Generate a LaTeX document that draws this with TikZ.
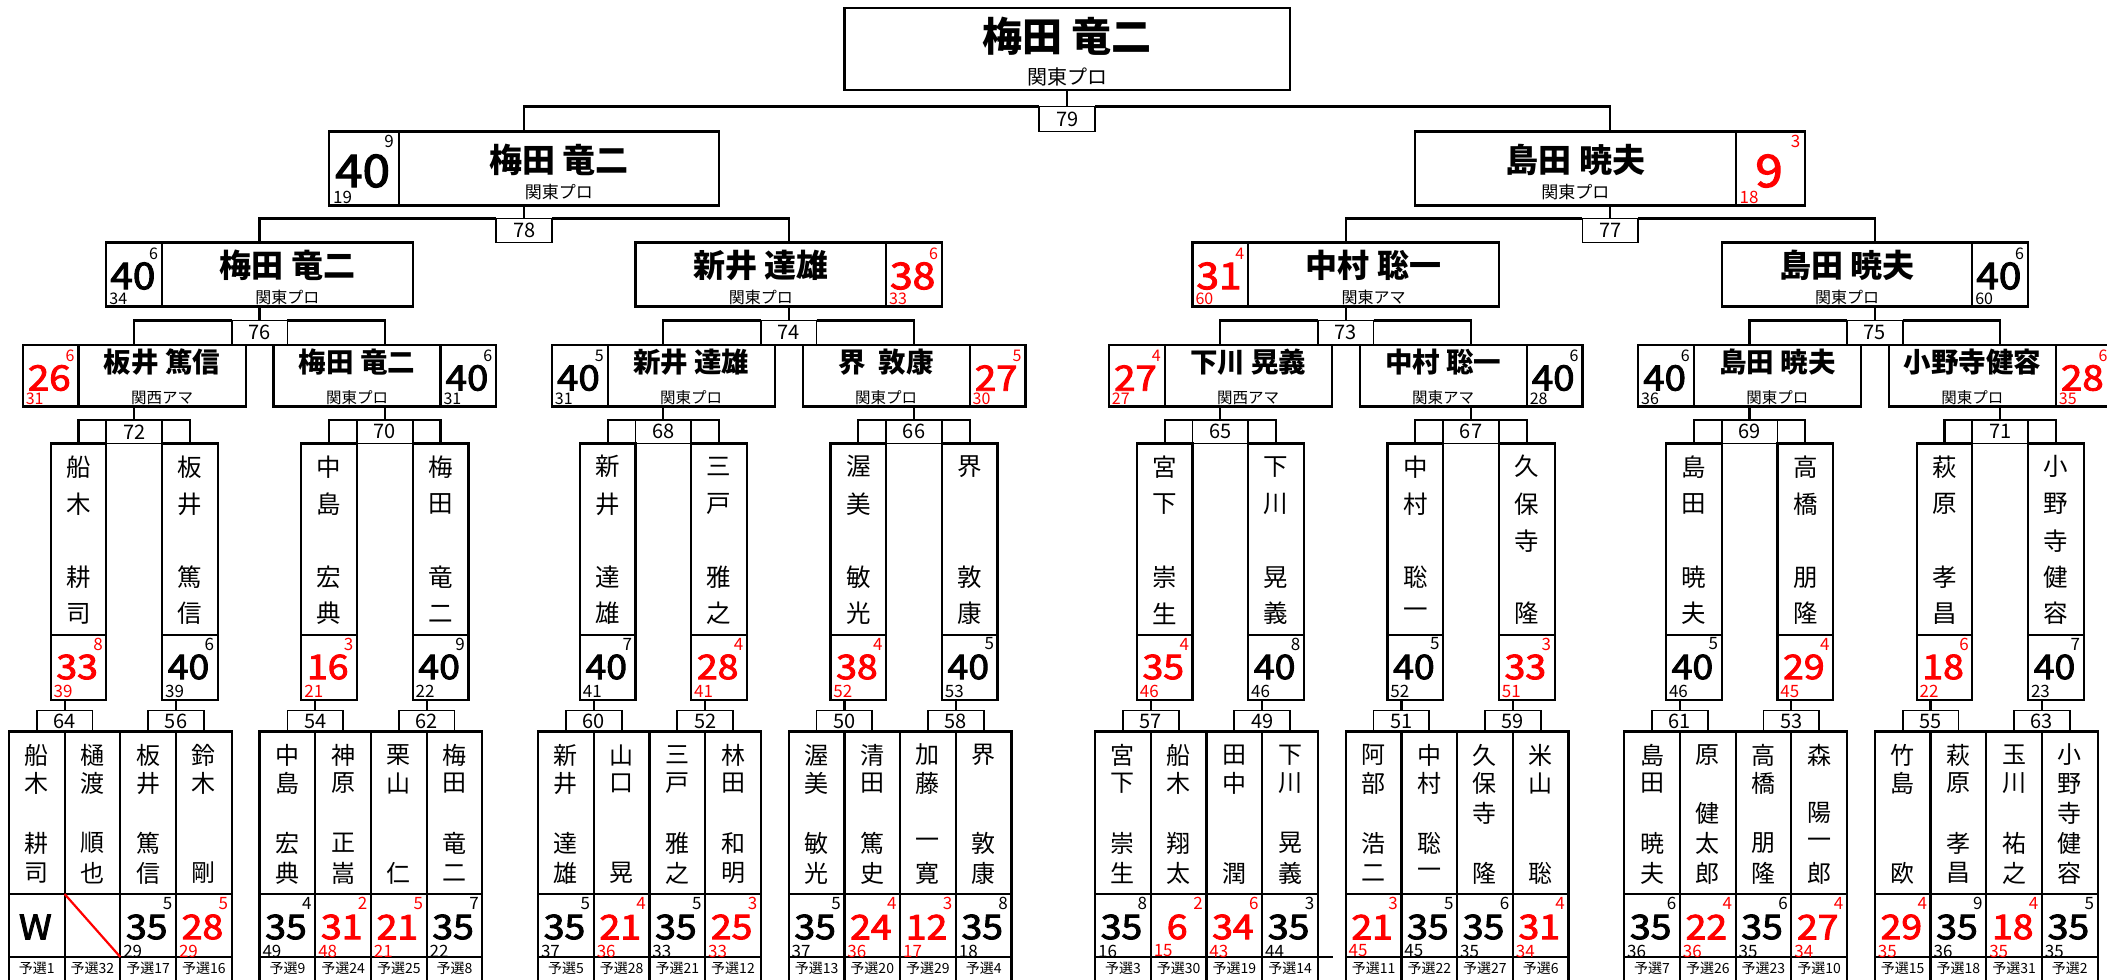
\documentclass[tikz,border=0pt]{standalone}
\usepackage{fontspec}
\setmainfont{Noto Sans CJK JP}
\newfontfamily\numf{Noto Sans CJK JP}[FakeBold=2.5]
\definecolor{rd}{RGB}{255,0,0}
\newcommand{\fsz}[1]{\fontsize{\fpeval{(#1)/2}pt}{\fpeval{(#1)*0.6}pt}\selectfont}
\newcommand{\bn}[1]{\scalebox{1.1}[1]{#1}}
\tikzset{
  cell/.style={draw, rectangle, line width=1.1pt, inner sep=0pt, outer sep=0pt},
  cellline/.style={line width=1.1pt},
  conn/.style={line width=1.1pt},
  mbox/.style={draw, rectangle, line width=0.9pt, inner sep=0pt, outer sep=0pt, minimum width=27.85pt, font=\fsz{20}},
  txt/.style={inner sep=0pt, outer sep=0pt},
  vc1/.style={txt, font=\fsz{24}},
  vc2/.style={txt, font=\fsz{24.5}},
  big1/.style={txt, font=\fsz{34}\numf},
  big2/.style={txt, font=\fsz{34}\numf},
  sm/.style={txt, font=\fsz{17}},
  lab/.style={txt, font=\fsz{14}},
  n3/.style={txt, font=\fsz{27.5}\bfseries},
  a3/.style={txt, font=\fsz{15.5}},
  b3/.style={txt, font=\fsz{35}\numf},
  s3/.style={txt, font=\fsz{16}},
  n4/.style={txt, font=\fsz{32}\bfseries},
  a4/.style={txt, font=\fsz{16}},
  b4/.style={txt, font=\fsz{37}\numf},
  s4/.style={txt, font=\fsz{16}},
  n5/.style={txt, font=\fsz{33}\bfseries},
  a5/.style={txt, font=\fsz{17}},
  b5/.style={txt, font=\fsz{45}\numf},
  s5/.style={txt, font=\fsz{17}},
  ntop/.style={txt, font=\fsz{40}\bfseries},
  atop/.style={txt, font=\fsz{20}},
}
% R1 column: id, left k, 5 slots, label
\newcommand{\Rone}[8]{%
  \node[cell, minimum width=27.85pt, minimum height=81.25pt] (#1n) at (#2+1,812.75) {};
  \node[vc1] (#1a) at (#2+1,755) {#3};
  \node[vc1] (#1b) at (#2+1,783.5) {#4};
  \node[vc1] (#1c) at (#2+1,813) {#5};
  \node[vc1] (#1d) at (#2+1,843) {#6};
  \node[vc1] (#1e) at (#2+1,873) {#7};
  \node[cell, minimum width=27.85pt, minimum height=31.5pt] (#1s) at (#2+1,925.5) {};
  \node[cell, minimum width=27.85pt, minimum height=16.5pt] (#1l) at (#2+1,973.5) {};
  \node[lab] (#1t) at (#2+1,968) {#8};
}
\newcommand{\Rsc}[6]{%
  \node[big1,text=#6] (#1v) at (#2+0.95,927) {\bn{#3}};
  \node[sm,text=#6,anchor=east,xshift=-1.8pt] (#1p) at (#2+2,903.5) {#4};
  \node[sm,text=#6,anchor=west,xshift=1.5pt] (#1q) at (#2,951) {#5};
}
\newcommand{\Mo}[3]{\node[mbox, minimum height=10.5pt] (#1) at (#2,721) {#3};}
\newcommand{\Mt}[3]{\node[mbox, minimum height=11.75pt] (#1) at (#2,431.75) {#3};}
\newcommand{\Mh}[3]{\node[mbox, minimum height=12.25pt] (#1) at (#2,332.75) {#3};}
\newcommand{\Mf}[3]{\node[mbox, minimum height=12pt] (#1) at (#2,230.5) {#3};}
% R2 box: id, left k, 5 slots
\newcommand{\RtN}[7]{%
  \node[cell, minimum width=27.85pt, minimum height=128.25pt] (#1) at (#2+1,571.75) {};
  \draw[cellline] (#2,635) -- (#2+2,635);
  \node[vc2] (#1a) at (#2+1,466.7) {#3};
  \node[vc2] (#1b) at (#2+1,504) {#4};
  \node[vc2] (#1c) at (#2+1,541) {#5};
  \node[vc2] (#1d) at (#2+1,577.5) {#6};
  \node[vc2] (#1e) at (#2+1,613.5) {#7};
}
\newcommand{\RtS}[6]{%
  \node[big2,text=#6] (#1v) at (#2+0.95,667) {\bn{#3}};
  \node[sm,text=#6,anchor=east,xshift=-1.8pt] (#1p) at (#2+2,644) {#4};
  \node[sm,text=#6,anchor=west,xshift=1.5pt] (#1q) at (#2,691.5) {#5};
}
% R3 boxes: id, centre, name, affil, score, sup, sub, colour
\newcommand{\RthL}[8]{%
  \node[cell, minimum width=111.4pt, minimum height=30.75pt] (#1) at (#2,375.75) {};
  \draw[cellline] (#2-2,345) -- (#2-2,406.5);
  \node[n3] (#1n) at (#2+1,362.5) {#3};
  \node[a3] (#1a) at (#2+1,397.5) {#4};
  \node[b3,text=#8] (#1v) at (#2-3.05,378) {\bn{#5}};
  \node[s3,text=#8,anchor=east,xshift=-2pt] (#1p) at (#2-2,355.5) {#6};
  \node[s3,text=#8,anchor=west,xshift=1.5pt] (#1q) at (#2-4,399) {#7};
}
\newcommand{\RthR}[8]{%
  \node[cell, minimum width=111.4pt, minimum height=30.75pt] (#1) at (#2,375.75) {};
  \draw[cellline] (#2+2,345) -- (#2+2,406.5);
  \node[n3] (#1n) at (#2-1,362.5) {#3};
  \node[a3] (#1a) at (#2-1,397.5) {#4};
  \node[b3,text=#8] (#1v) at (#2+2.95,378) {\bn{#5}};
  \node[s3,text=#8,anchor=east,xshift=-2pt] (#1p) at (#2+4,355.5) {#6};
  \node[s3,text=#8,anchor=west,xshift=1.5pt] (#1q) at (#2+2,399) {#7};
}
% R4 boxes
\newcommand{\RfoL}[8]{%
  \node[cell, minimum width=153.175pt, minimum height=32pt] (#1) at (#2,274.5) {};
  \draw[cellline] (#2-3.5,242.5) -- (#2-3.5,306.5);
  \node[n4] (#1n) at (#2+1,265.5) {#3};
  \node[a4] (#1a) at (#2+1,297) {#4};
  \node[b4,text=#8] (#1v) at (#2-4.55,276) {\bn{#5}};
  \node[s4,text=#8,anchor=east,xshift=-2pt] (#1p) at (#2-3.5,254) {#6};
  \node[s4,text=#8,anchor=west,xshift=1.5pt] (#1q) at (#2-5.5,299) {#7};
}
\newcommand{\RfoR}[8]{%
  \node[cell, minimum width=153.175pt, minimum height=32pt] (#1) at (#2,274.5) {};
  \draw[cellline] (#2+3.5,242.5) -- (#2+3.5,306.5);
  \node[n4] (#1n) at (#2-1,265.5) {#3};
  \node[a4] (#1a) at (#2-1,297) {#4};
  \node[b4,text=#8] (#1v) at (#2+4.45,276) {\bn{#5}};
  \node[s4,text=#8,anchor=east,xshift=-2pt] (#1p) at (#2+5.5,254) {#6};
  \node[s4,text=#8,anchor=west,xshift=1.5pt] (#1q) at (#2+3.5,299) {#7};
}
% R5 boxes
\newcommand{\RfiL}[8]{%
  \node[cell, minimum width=194.95pt, minimum height=37pt] (#1) at (#2,168.5) {};
  \draw[cellline] (#2-4.5,131.5) -- (#2-4.5,205.5);
  \node[n5] (#1n) at (#2+1.25,159.5) {#3};
  \node[a5] (#1a) at (#2+1.25,192.5) {#4};
  \node[b5,text=#8] (#1v) at (#2-5.8,171) {\bn{#5}};
  \node[s5,text=#8,anchor=east,xshift=-2.5pt] (#1p) at (#2-4.5,141) {#6};
  \node[s5,text=#8,anchor=west,xshift=2pt] (#1q) at (#2-7,197.5) {#7};
}
\newcommand{\RfiR}[8]{%
  \node[cell, minimum width=194.95pt, minimum height=37pt] (#1) at (#2,168.5) {};
  \draw[cellline] (#2+4.5,131.5) -- (#2+4.5,205.5);
  \node[n5] (#1n) at (#2-1.25,159.5) {#3};
  \node[a5] (#1a) at (#2-1.25,192.5) {#4};
  \node[b5,text=#8] (#1v) at (#2+5.7,171) {\bn{#5}};
  \node[s5,text=#8,anchor=east,xshift=-2.5pt] (#1p) at (#2+7,141) {#6};
  \node[s5,text=#8,anchor=west,xshift=2pt] (#1q) at (#2+4.5,197.5) {#7};
}
\newcommand{\up}[2]{\draw[conn] (#1.north) -- (#1.north |- #2.south);}
\newcommand{\brk}[4]{%
  \draw[conn] (#1.north) |- (#2.north west);
  \draw[conn] (#2.north east) -| (#3.north);
  \draw[conn] (#2.north) -- (#2.north |- #4.south);
}
\begin{document}
\begin{tikzpicture}[x=13.925pt, y=-0.5pt]
\useasboundingbox (-4.45pt,0pt) rectangle (1049.05pt,-489.5pt);
% ---------- Group 1 ----------
\Rone{aA}{0}{船}{木}{}{耕}{司}{予選1}   \Rsc{aA}{0}{W}{}{}{black}
\Rone{aB}{2}{樋}{渡}{}{順}{也}{予選32}
\Rone{aC}{4}{板}{井}{}{篤}{信}{予選17}  \Rsc{aC}{4}{35}{5}{29}{black}
\Rone{aD}{6}{鈴}{木}{}{}{剛}{予選16}    \Rsc{aD}{6}{28}{5}{29}{rd}
\draw[line width=1.1pt, rd] (aBs.north west) -- (aBs.south east);
\Mo{m64}{2}{64} \Mo{m56}{6}{56}
\RtN{aL}{1.5}{船}{木}{}{耕}{司} \RtS{aL}{1.5}{33}{8}{39}{rd}
\RtN{aR}{5.5}{板}{井}{}{篤}{信} \RtS{aR}{5.5}{40}{6}{39}{black}
\Mt{m72}{4.5}{72}
\RthL{aT}{4.5}{板井 篤信}{関西アマ}{26}{6}{31}{rd}
% ---------- Group 2 ----------
\Rone{bA}{9}{中}{島}{}{宏}{典}{予選9}    \Rsc{bA}{9}{35}{4}{49}{black}
\Rone{bB}{11}{神}{原}{}{正}{嵩}{予選24}  \Rsc{bB}{11}{31}{2}{48}{rd}
\Rone{bC}{13}{栗}{山}{}{}{仁}{予選25}    \Rsc{bC}{13}{21}{5}{21}{rd}
\Rone{bD}{15}{梅}{田}{}{竜}{二}{予選8}   \Rsc{bD}{15}{35}{7}{22}{black}
\Mo{m54}{11}{54} \Mo{m62}{15}{62}
\RtN{bL}{10.5}{中}{島}{}{宏}{典} \RtS{bL}{10.5}{16}{3}{21}{rd}
\RtN{bR}{14.5}{梅}{田}{}{竜}{二} \RtS{bR}{14.5}{40}{9}{22}{black}
\Mt{m70}{13.5}{70}
\RthR{bT}{13.5}{梅田 竜二}{関東プロ}{40}{6}{31}{black}
% ---------- Group 3 ----------
\Rone{cA}{19}{新}{井}{}{達}{雄}{予選5}   \Rsc{cA}{19}{35}{5}{37}{black}
\Rone{cB}{21}{山}{口}{}{}{晃}{予選28}    \Rsc{cB}{21}{21}{4}{36}{rd}
\Rone{cC}{23}{三}{戸}{}{雅}{之}{予選21}  \Rsc{cC}{23}{35}{5}{33}{black}
\Rone{cD}{25}{林}{田}{}{和}{明}{予選12}  \Rsc{cD}{25}{25}{3}{33}{rd}
\Mo{m60}{21}{60} \Mo{m52}{25}{52}
\RtN{cL}{20.5}{新}{井}{}{達}{雄} \RtS{cL}{20.5}{40}{7}{41}{black}
\RtN{cR}{24.5}{三}{戸}{}{雅}{之} \RtS{cR}{24.5}{28}{4}{41}{rd}
\Mt{m68}{23.5}{68}
\RthL{cT}{23.5}{新井 達雄}{関東プロ}{40}{5}{31}{black}
% ---------- Group 4 ----------
\Rone{dA}{28}{渥}{美}{}{敏}{光}{予選13}  \Rsc{dA}{28}{35}{5}{37}{black}
\Rone{dB}{30}{清}{田}{}{篤}{史}{予選20}  \Rsc{dB}{30}{24}{4}{36}{rd}
\Rone{dC}{32}{加}{藤}{}{一}{寛}{予選29}  \Rsc{dC}{32}{12}{3}{17}{rd}
\Rone{dD}{34}{界}{}{}{敦}{康}{予選4}     \Rsc{dD}{34}{35}{8}{18}{black}
\Mo{m50}{30}{50} \Mo{m58}{34}{58}
\RtN{dL}{29.5}{渥}{美}{}{敏}{光} \RtS{dL}{29.5}{38}{4}{52}{rd}
\RtN{dR}{33.5}{界}{}{}{敦}{康}   \RtS{dR}{33.5}{40}{5}{53}{black}
\Mt{m66}{32.5}{66}
\RthR{dT}{32.5}{界\ \ 敦康}{関東プロ}{27}{5}{30}{rd}
% ---------- Group 5 ----------
\Rone{eA}{39}{宮}{下}{}{崇}{生}{予選3}   \Rsc{eA}{39}{35}{8}{16}{black}
\Rone{eB}{41}{船}{木}{}{翔}{太}{予選30}  \Rsc{eB}{41}{6}{2}{15}{rd}
\Rone{eC}{43}{田}{中}{}{}{潤}{予選19}    \Rsc{eC}{43}{34}{6}{43}{rd}
\Rone{eD}{45}{下}{川}{}{晃}{義}{予選14}  \Rsc{eD}{45}{35}{3}{44}{black}
\Mo{m57}{41}{57} \Mo{m49}{45}{49}
\RtN{eL}{40.5}{宮}{下}{}{崇}{生} \RtS{eL}{40.5}{35}{4}{46}{rd}
\RtN{eR}{44.5}{下}{川}{}{晃}{義} \RtS{eR}{44.5}{40}{8}{46}{black}
\Mt{m65}{43.5}{65}
\RthL{eT}{43.5}{下川 晃義}{関西アマ}{27}{4}{27}{rd}
\draw[cellline] (47,957) -- (47.55,957);
% ---------- Group 6 ----------
\Rone{fA}{48}{阿}{部}{}{浩}{二}{予選11}  \Rsc{fA}{48}{21}{3}{45}{rd}
\Rone{fB}{50}{中}{村}{}{聡}{一}{予選22}  \Rsc{fB}{50}{35}{5}{45}{black}
\Rone{fC}{52}{久}{保}{寺}{}{隆}{予選27}  \Rsc{fC}{52}{35}{6}{35}{black}
\Rone{fD}{54}{米}{山}{}{}{聡}{予選6}     \Rsc{fD}{54}{31}{4}{34}{rd}
\Mo{m51}{50}{51} \Mo{m59}{54}{59}
\RtN{fL}{49.5}{中}{村}{}{聡}{一} \RtS{fL}{49.5}{40}{5}{52}{black}
\RtN{fR}{53.5}{久}{保}{寺}{}{隆} \RtS{fR}{53.5}{33}{3}{51}{rd}
\Mt{m67}{52.5}{67}
\RthR{fT}{52.5}{中村 聡一}{関東アマ}{40}{6}{28}{black}
% ---------- Group 7 ----------
\Rone{gA}{58}{島}{田}{}{暁}{夫}{予選7}   \Rsc{gA}{58}{35}{6}{36}{black}
\Rone{gB}{60}{原}{}{健}{太}{郎}{予選26}  \Rsc{gB}{60}{22}{4}{36}{rd}
\Rone{gC}{62}{高}{橋}{}{朋}{隆}{予選23}  \Rsc{gC}{62}{35}{6}{35}{black}
\Rone{gD}{64}{森}{}{陽}{一}{郎}{予選10}  \Rsc{gD}{64}{27}{4}{34}{rd}
\Mo{m61}{60}{61} \Mo{m53}{64}{53}
\RtN{gL}{59.5}{島}{田}{}{暁}{夫} \RtS{gL}{59.5}{40}{5}{46}{black}
\RtN{gR}{63.5}{高}{橋}{}{朋}{隆} \RtS{gR}{63.5}{29}{4}{45}{rd}
\Mt{m69}{62.5}{69}
\RthL{gT}{62.5}{島田 暁夫}{関東プロ}{40}{6}{36}{black}
% ---------- Group 8 ----------
\Rone{hA}{67}{竹}{島}{}{}{欧}{予選15}    \Rsc{hA}{67}{29}{4}{35}{rd}
\Rone{hB}{69}{萩}{原}{}{孝}{昌}{予選18}  \Rsc{hB}{69}{35}{9}{36}{black}
\Rone{hC}{71}{玉}{川}{}{祐}{之}{予選31}  \Rsc{hC}{71}{18}{4}{35}{rd}
\Rone{hD}{73}{小}{野}{寺}{健}{容}{予選2}  \Rsc{hD}{73}{35}{5}{35}{black}
\Mo{m55}{69}{55} \Mo{m63}{73}{63}
\RtN{hL}{68.5}{萩}{原}{}{孝}{昌} \RtS{hL}{68.5}{18}{6}{22}{rd}
\RtN{hR}{72.5}{小}{野}{寺}{健}{容} \RtS{hR}{72.5}{40}{7}{23}{black}
\Mt{m71}{71.5}{71}
\RthR{hT}{71.5}{小野寺健容}{関東プロ}{28}{6}{35}{rd}
% ---------- Round 4 ----------
\Mh{m76}{9}{76} \Mh{m74}{28}{74} \Mh{m73}{48}{73} \Mh{m75}{67}{75}
\RfoL{LL}{9}{梅田 竜二}{関東プロ}{40}{6}{34}{black}
\RfoR{LR}{28}{新井 達雄}{関東プロ}{38}{6}{33}{rd}
\RfoL{RL}{48}{中村 聡一}{関東アマ}{31}{4}{60}{rd}
\RfoR{RR}{67}{島田 暁夫}{関東プロ}{40}{6}{60}{black}
% ---------- Round 5 ----------
\Mf{m78}{18.5}{78} \Mf{m77}{57.5}{77}
\RfiL{FL}{18.5}{梅田 竜二}{関東プロ}{40}{9}{19}{black}
\RfiR{FR}{57.5}{島田 暁夫}{関東プロ}{9}{3}{18}{rd}
% ---------- Final ----------
\node[mbox, minimum height=12.5pt] (m79) at (38,119) {79};
\node[cell, minimum width=222.8pt, minimum height=41pt] (top) at (38,49) {};
\node[ntop] (topn) at (38,36) {梅田 竜二};
\node[atop] (topa) at (38,77) {関東プロ};
% ---------- connectors ----------
\up{m64}{aL} \up{m56}{aR} \brk{aL}{m72}{aR}{aT}
\up{m54}{bL} \up{m62}{bR} \brk{bL}{m70}{bR}{bT}
\up{m60}{cL} \up{m52}{cR} \brk{cL}{m68}{cR}{cT}
\up{m50}{dL} \up{m58}{dR} \brk{dL}{m66}{dR}{dT}
\up{m57}{eL} \up{m49}{eR} \brk{eL}{m65}{eR}{eT}
\up{m51}{fL} \up{m59}{fR} \brk{fL}{m67}{fR}{fT}
\up{m61}{gL} \up{m53}{gR} \brk{gL}{m69}{gR}{gT}
\up{m55}{hL} \up{m63}{hR} \brk{hL}{m71}{hR}{hT}
\brk{aT}{m76}{bT}{LL} \brk{cT}{m74}{dT}{LR}
\brk{eT}{m73}{fT}{RL} \brk{gT}{m75}{hT}{RR}
\brk{LL}{m78}{LR}{FL} \brk{RL}{m77}{RR}{FR}
\brk{FL}{m79}{FR}{top}
\end{tikzpicture}
\end{document}
